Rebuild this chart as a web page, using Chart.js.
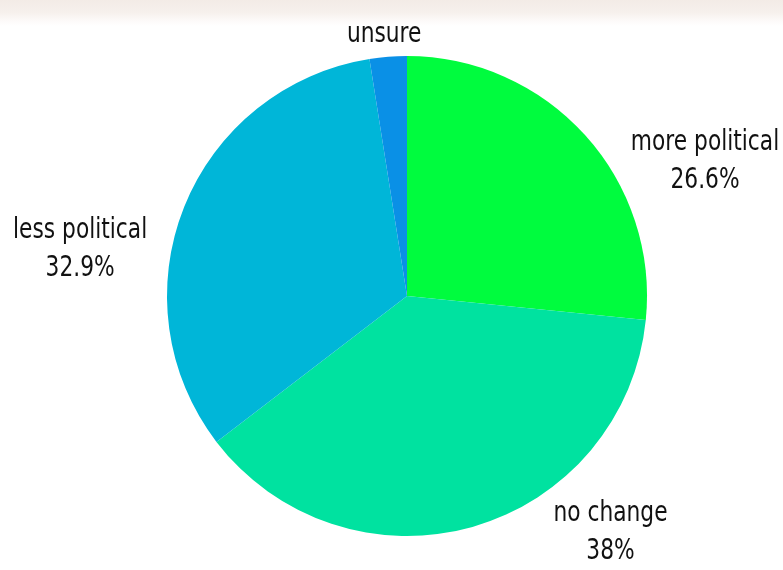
<!DOCTYPE html>
<html>
<head>
<meta charset="utf-8">
<script src="https://cdn.jsdelivr.net/npm/chart.js@4.4.1/dist/chart.umd.min.js"></script>
<style>
  html, body {
    margin: 0;
    padding: 0;
    background: #fff;
  }
  body {
    /* faint paper strip along the top edge */
    background: linear-gradient(to bottom, #f3ebe6 0px, #f6f0ec 12px, #fcf9f8 20px, #fff 26px);
  }
  #wrap {
    width: 783px;
    height: 570px;
    position: relative;
  }
</style>
</head>
<body>
<div id="wrap"><canvas id="pieChart"></canvas></div>
<script>
// categories and shares (%), clockwise from 12 o'clock
const categories = ['more political', 'no change', 'less political', 'unsure'];
const shares = [26.6, 38, 32.9, 2.5];
const valueLabels = ['26.6%', '38%', '32.9%', ''];
const sliceColors = ['#00fc3e', '#00e2a0', '#00b6d8', '#0a90e6'];

// where each label sits, relative to the outer edge of its slice
const labelOffsets = [[120, 25], [138, 5], [-104, 41], [-4, -22]];

// draws text a little narrower and taller than the font's normal shape
function tallText(ctx, text, x, y) {
    ctx.save();
    ctx.translate(x, y);
    ctx.scale(0.93, 1.12);
    ctx.fillText(text, 0, 0);
    ctx.restore();
}

const outsideLabels = {
    id: 'outsideLabels',
    afterDatasetsDraw(chart) {
        const ctx = chart.ctx;
        const arcs = chart.getDatasetMeta(0).data;
        ctx.save();
        ctx.fillStyle = '#111';
        ctx.textAlign = 'center';
        ctx.textBaseline = 'middle';
        ctx.font = '26px "Liberation Sans Narrow", "DejaVu Sans Condensed", sans-serif';
        arcs.forEach((arc, i) => {
            const p = arc.getProps(['x', 'y', 'startAngle', 'endAngle', 'outerRadius'], true);
            const mid = (p.startAngle + p.endAngle) / 2;
            const ex = p.x + Math.cos(mid) * p.outerRadius;
            const ey = p.y + Math.sin(mid) * p.outerRadius;
            const cx = ex + labelOffsets[i][0];
            const cy = ey + labelOffsets[i][1];
            if (valueLabels[i]) {
                tallText(ctx, categories[i], cx, cy - 18);
                tallText(ctx, valueLabels[i], cx, cy + 20);
            } else {
                tallText(ctx, categories[i], cx, cy);
            }
        });
        ctx.restore();
    }
};

const ctx = document.getElementById('pieChart').getContext('2d');
new Chart(ctx, {
    type: 'pie',
    data: {
        labels: categories,
        datasets: [{
            data: shares,
            backgroundColor: sliceColors,
            borderWidth: 0
        }]
    },
    options: {
        responsive: true,
        maintainAspectRatio: false,
        animation: false,
        layout: {
            padding: { top: 56, bottom: 34, left: 167, right: 136 }
        },
        plugins: {
            legend: { display: false },
            tooltip: { enabled: false }
        }
    },
    plugins: [outsideLabels]
});
</script>
</body>
</html>
